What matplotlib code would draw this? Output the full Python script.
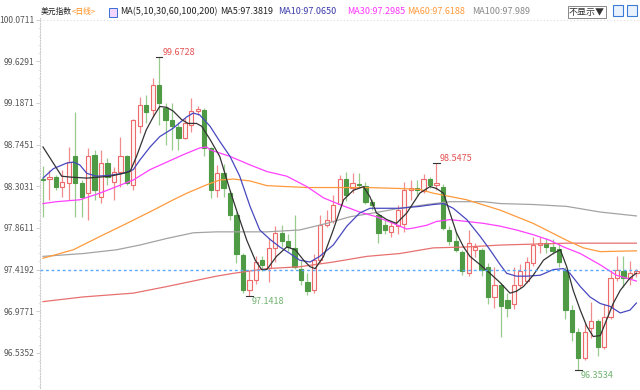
import matplotlib
matplotlib.use("Agg")
import matplotlib.pyplot as plt
from matplotlib.patches import Rectangle

plt.rcParams['font.family'] = ['Noto Sans CJK SC', 'DejaVu Sans']

# =======================
# Kerzen (OHLC)
# =======================
opens = [98.38, 98.38, 98.40, 98.30, 98.34, 98.62, 98.34, 98.23, 98.63, 98.19,
         98.55, 98.35, 98.46, 98.62, 98.32, 98.94, 99.17, 99.11, 99.38, 99.13,
         99.01, 98.93, 98.82, 98.95, 99.10, 99.11, 98.71, 98.26, 98.44, 98.23,
         98.00, 97.57, 97.20, 97.31, 97.52, 97.44, 97.65, 97.81, 97.72, 97.65,
         97.43, 97.29, 97.20, 97.52, 97.89, 97.93, 98.12, 98.38, 98.29, 98.33,
         98.31, 98.14, 98.00, 97.89, 97.82, 97.88, 97.90, 98.26, 98.28, 98.25,
         98.38, 98.32, 98.30, 97.84, 97.72, 97.61, 97.38, 97.63, 97.63, 97.45,
         97.13, 97.26, 97.10, 97.05, 97.26, 97.30, 97.49, 97.68, 97.70, 97.66,
         97.64, 97.42, 96.99, 96.76, 96.48, 96.80, 96.87, 96.60, 96.92, 97.33,
         97.40, 97.33, 97.38]
highs = [98.52, 98.48, 98.42, 98.48, 98.72, 99.09, 98.37, 98.71, 98.69, 98.69,
         98.60, 98.51, 98.83, 98.64, 99.02, 99.25, 99.27, 99.45, 99.6728, 99.19,
         99.19, 98.99, 99.03, 99.24, 99.16, 99.13, 98.72, 98.53, 98.54, 98.26,
         98.03, 97.60, 97.40, 97.56, 97.56, 97.75, 97.88, 97.89, 97.80, 98.00,
         97.52, 97.38, 97.59, 98.00, 98.05, 98.21, 98.42, 98.45, 98.44, 98.44,
         98.35, 98.17, 98.02, 97.95, 97.94, 98.10, 98.35, 98.37, 98.37, 98.43,
         98.40, 98.5475, 98.33, 97.88, 97.82, 97.63, 97.84, 97.70, 97.65, 97.49,
         97.45, 97.28, 97.17, 97.45, 97.48, 97.55, 97.77, 97.77, 97.76, 97.74,
         97.70, 97.45, 97.04, 96.80, 96.85, 97.08, 96.90, 97.05, 97.42, 97.56,
         97.56, 97.51, 97.43]
lows = [97.98, 98.16, 98.26, 98.19, 98.16, 97.98, 97.98, 97.95, 98.16, 98.13,
        98.32, 98.16, 98.30, 98.32, 98.26, 98.87, 98.97, 99.04, 98.95, 98.74,
        98.69, 98.69, 98.80, 98.88, 99.06, 98.62, 98.18, 98.19, 98.19, 97.95,
        97.49, 97.17, 97.1418, 97.27, 97.40, 97.29, 97.50, 97.66, 97.62, 97.43,
        97.26, 97.15, 97.17, 97.49, 97.87, 97.91, 98.10, 98.15, 98.23, 98.28,
        98.12, 98.05, 97.70, 97.80, 97.77, 97.80, 97.82, 98.16, 98.20, 98.23,
        98.29, 98.26, 97.84, 97.68, 97.61, 97.36, 97.35, 97.55, 97.35, 97.06,
        97.01, 96.70, 96.92, 97.00, 97.22, 97.28, 97.46, 97.60, 97.60, 97.58,
        97.45, 96.90, 96.66, 96.3534, 96.46, 96.69, 96.50, 96.58, 96.90, 97.30,
        97.24, 97.26, 97.34]
closes = [98.37, 98.40, 98.30, 98.35, 98.56, 98.34, 98.19, 98.62, 98.26, 98.55,
          98.40, 98.46, 98.62, 98.34, 99.01, 99.17, 99.09, 99.38, 99.19, 99.01,
          98.94, 98.82, 98.97, 99.10, 99.12, 98.71, 98.26, 98.44, 98.28, 98.00,
          97.58, 97.20, 97.31, 97.50, 97.47, 97.65, 97.81, 97.72, 97.66, 97.45,
          97.31, 97.19, 97.52, 97.89, 97.95, 98.11, 98.38, 98.21, 98.34, 98.32,
          98.14, 98.10, 97.81, 97.84, 97.88, 98.05, 98.26, 98.28, 98.26, 98.38,
          98.32, 98.34, 97.86, 97.72, 97.63, 97.40, 97.70, 97.66, 97.42, 97.13,
          97.26, 97.03, 97.01, 97.26, 97.40, 97.50, 97.68, 97.70, 97.66, 97.62,
          97.50, 96.99, 96.76, 96.48, 96.76, 96.87, 96.60, 96.92, 97.33, 97.42,
          97.33, 97.38, 97.40]

# =======================
# Gleitende Durchschnitte
# =======================
ma5_x = [0, 2.9, 4.4, 6.8, 10.4, 12.4, 13.5, 14.5, 16, 17.1, 18.1, 19.2, 20.2, 21.5, 22.5,
         23.8, 24.6, 25.9, 27.4, 29, 30, 31.6, 32.9, 33.9, 34.7, 36.2, 37.8, 39.1, 40.4,
         41.4, 42.2, 43.5, 45, 46.6, 48.1, 49.7, 50.7, 51.7, 53.3, 54.8, 56.4, 58.4, 60,
         61, 62.1, 63.1, 64.1, 65.2, 66.2, 67.8, 69.3, 70.9, 72.4, 73.4, 74.5, 76, 77.6,
         79.1, 80.2, 81.2, 82.2, 83.3, 84.3, 85.3, 86.4, 87.4, 88.4, 89.5, 91, 92]
ma5_y = [98.72, 98.41, 98.40, 98.39, 98.41, 98.44, 98.46, 98.62, 98.90, 99.04, 99.15, 99.14,
         99.10, 99.01, 98.97, 98.97, 98.94, 98.80, 98.62, 98.26, 98.05, 97.73, 97.52, 97.42,
         97.42, 97.56, 97.66, 97.63, 97.52, 97.45, 97.43, 97.56, 97.84, 98.16, 98.26, 98.30,
         98.19, 98.02, 97.95, 97.91, 98.02, 98.23, 98.30, 98.28, 98.23, 98.02, 97.81, 97.66,
         97.56, 97.47, 97.38, 97.28, 97.17, 97.19, 97.24, 97.36, 97.52, 97.59, 97.63, 97.45,
         97.20, 96.99, 96.82, 96.71, 96.72, 96.89, 97.06, 97.20, 97.33, 97.3819]

ma10_x = [0, 1.6, 3.7, 4.7, 5.7, 6.8, 8.3, 10.4, 12.4, 14, 15, 16.6, 18.1, 20.2, 22.3, 23.3,
          24.3, 25.9, 27.4, 29, 30.5, 32.1, 33.6, 35.2, 36.7, 38.3, 39.8, 41.4, 42.9, 45,
          47.1, 49.1, 50.7, 53.3, 55.3, 58.4, 60.5, 62.1, 63.6, 65.7, 67.8, 69.3, 70.9,
          71.9, 73.4, 75, 77.1, 79.1, 80.7, 81.7, 83.3, 84.8, 86.4, 87.9, 89.5, 91, 92]
ma10_y = [98.39, 98.49, 98.55, 98.56, 98.53, 98.44, 98.41, 98.42, 98.44, 98.48, 98.58, 98.72,
          98.83, 98.92, 99.04, 99.08, 99.06, 98.94, 98.78, 98.62, 98.41, 98.09, 97.84, 97.74,
          97.66, 97.59, 97.52, 97.50, 97.56, 97.68, 97.88, 98.02, 98.07, 98.07, 98.07, 98.09,
          98.11, 98.12, 98.07, 97.95, 97.77, 97.63, 97.47, 97.38, 97.35, 97.35, 97.36, 97.42,
          97.43, 97.38, 97.24, 97.13, 97.06, 97.03, 96.96, 96.99, 97.065]

ma30_x = [0, 2.1, 5.7, 8.8, 11.4, 14, 16.6, 19.2, 21.8, 24.3, 25.4, 25.9, 29, 32.1, 34.7,
          37.8, 40.9, 43.5, 46, 49.1, 51.7, 54.3, 56.4, 57.4, 59.5, 61, 63.1, 65.7, 68.3,
          70.9, 73.4, 76, 78.6, 80.7, 83.3, 86.4, 88.9, 92]
ma30_y = [98.12, 98.14, 98.16, 98.23, 98.30, 98.37, 98.48, 98.56, 98.64, 98.71, 98.72, 98.69,
          98.62, 98.53, 98.46, 98.41, 98.30, 98.18, 98.11, 98.03, 97.98, 97.91, 97.85, 97.86,
          97.89, 97.93, 97.95, 97.93, 97.91, 97.88, 97.84, 97.79, 97.73, 97.66, 97.59, 97.47,
          97.36, 97.2985]

ma60_x = [0, 4.7, 8.8, 13, 17.1, 20.2, 22.3, 25.4, 27.4, 29.5, 32.1, 34.7, 37.8, 40.9, 45,
          50.2, 55.3, 58.4, 60.5, 65.7, 70.9, 76, 78.6, 81.2, 83.8, 86.4, 92]
ma60_y = [97.54, 97.63, 97.77, 97.91, 98.05, 98.16, 98.23, 98.32, 98.37, 98.38, 98.36, 98.31,
          98.30, 98.29, 98.29, 98.29, 98.28, 98.27, 98.23, 98.16, 98.05, 97.91, 97.82, 97.73,
          97.65, 97.61, 97.6188]

ma100_x = [0, 6.25, 11.4, 15, 19.2, 23.3, 26.9, 29.5, 34.7, 39.8, 44, 47.6, 51.2, 55.3, 59.5,
           63.1, 68.3, 70.9, 76, 81.2, 86.4, 92]
ma100_y = [97.56, 97.59, 97.63, 97.68, 97.75, 97.81, 97.82, 97.82, 97.82, 97.84, 97.91, 97.98,
           98.02, 98.07, 98.11, 98.14, 98.14, 98.12, 98.11, 98.09, 98.03, 97.989]

ma200_x = [0, 6.25, 14, 19.2, 26.9, 29.5, 34.7, 39.8, 45, 50.2, 55.3, 60.5, 65.7, 70.9, 76,
           81.2, 92]
ma200_y = [97.08, 97.13, 97.17, 97.24, 97.35, 97.38, 97.43, 97.45, 97.50, 97.56, 97.59, 97.65,
           97.66, 97.68, 97.69, 97.70, 97.70]

ytick_vals = [100.0711, 99.6291, 99.1871, 98.7451, 98.3031, 97.8611, 97.4192, 96.9771, 96.5352]
last_line = 97.4192

red = '#ec6a6a'
red_wick = '#f08c8c'
green = '#4f9b45'
green_wick = '#98cc8e'

fig = plt.figure(figsize=(6.4, 3.9), dpi=100)
ax = fig.add_axes([40 / 640, 2 / 390, 600 / 640, 370 / 390])

n = len(closes)
for i in range(n):
    o, h, l, c = opens[i], highs[i], lows[i], closes[i]
    up = c >= o
    wc = red_wick if up else green_wick
    ax.vlines(i, l, h, color=wc, lw=0.9, zorder=1)
    body = max(abs(c - o), 0.008)
    if up:
        ax.bar(i, body, bottom=min(o, c), width=0.66, facecolor='#fff6f6',
               edgecolor=red, linewidth=0.8, zorder=2)
    else:
        ax.bar(i, body, bottom=min(o, c), width=0.66, facecolor=green,
               edgecolor=green, linewidth=0.8, zorder=2)

ax.plot(ma200_x, ma200_y, color='#e87070', lw=0.9, zorder=3)
ax.plot(ma100_x, ma100_y, color='#a3a3a3', lw=0.9, zorder=3)
ax.plot(ma60_x, ma60_y, color='#ff9a3c', lw=0.9, zorder=3)
ax.plot(ma30_x, ma30_y, color='#ff40ff', lw=0.9, zorder=3)
ax.plot(ma10_x, ma10_y, color='#4848c0', lw=0.9, zorder=3)
ax.plot(ma5_x, ma5_y, color='#333333', lw=0.9, zorder=4)

ax.axhline(last_line, color='#5aa8ff', lw=1.0, ls=(0, (2, 2)), zorder=5)
ax.axhline(ytick_vals[0], color='#dddddd', lw=0.8, ls=(0, (1, 2)), zorder=0)

# Extremwerte markieren
i_hi = highs.index(max(highs))
i_lo = lows.index(min(lows))
for idx in [i_hi, 61]:
    ax.plot([idx - 0.5, idx + 0.5], [highs[idx], highs[idx]], color='#333', lw=0.8, zorder=6)
    ax.text(idx + 0.5, highs[idx] + 0.005, f'{highs[idx]:.4f}', color='#e35353',
            fontsize=6.5, va='bottom', ha='left')
for idx in [32, i_lo]:
    ax.plot([idx - 0.5, idx + 0.5], [lows[idx], lows[idx]], color='#333', lw=0.8, zorder=6)
    ax.text(idx + 0.3, lows[idx] - 0.01, f'{lows[idx]:.4f}', color='#6fb26f',
            fontsize=6.5, va='top', ha='left')

ax.set_xlim(-0.465, 92.56)
ax.set_ylim(96.164, 100.088)
ax.set_xticks([])
ax.set_yticks(ytick_vals)
ax.set_yticklabels([f'{v:.4f}' for v in ytick_vals], fontsize=6.1, color='#555555')
ax.set_yticks([ytick_vals[-1] + k * 0.0884 for k in range(-4, 41)], minor=True)
ax.tick_params(axis='y', which='major', length=3, width=0.6, color='#c8c8c8', pad=1)
ax.tick_params(axis='y', which='minor', length=1.5, width=0.5, color='#dddddd')
for s in ['top', 'right', 'bottom']:
    ax.spines[s].set_visible(False)
ax.spines['left'].set_color('#cccccc')
ax.spines['left'].set_linestyle((0, (1, 1.5)))
ax.spines['left'].set_linewidth(0.8)

# Kopfzeile
ty = 1 - 12 / 390
fig.text(41 / 640, ty, '美元指数', fontsize=5.6, color='#222222', va='center')
fig.text(72 / 640, ty, '<日线>', fontsize=5.6, color='#ff8c1a', va='center')
fig.add_artist(Rectangle((109 / 640, 1 - 17 / 390), 8 / 640, 9 / 390, transform=fig.transFigure,
                         facecolor='#f2d6ff', edgecolor='#3a6fd8', lw=0.7))
fig.text(120 / 640, ty, 'MA(5,10,30,60,100,200)', fontsize=6.5, color='#222222', va='center')
fig.text(220 / 640, ty, 'MA5:97.3819', fontsize=6.5, color='#222222', va='center')
fig.text(278 / 640, ty, 'MA10:97.0650', fontsize=6.5, color='#3a3aa8', va='center')
fig.text(347 / 640, ty, 'MA30:97.2985', fontsize=6.5, color='#ff33ff', va='center')
fig.text(407 / 640, ty, 'MA60:97.6188', fontsize=6.5, color='#ff9a3c', va='center')
fig.text(472 / 640, ty, 'MA100:97.989', fontsize=6.5, color='#888888', va='center')
fig.text(569 / 640, ty, '不显示▼', fontsize=6.5, color='#333333', va='center',
         bbox=dict(boxstyle='square,pad=0.15', facecolor='white', edgecolor='#888888', lw=0.7))
for bx in [613, 627]:
    fig.add_artist(Rectangle((bx / 640, 1 - 16 / 390), 10 / 640, 11 / 390, transform=fig.transFigure,
                             facecolor='#eaf2ff', edgecolor='#3a7bd5', lw=0.8))

fig.savefig('out.png', dpi=100)
